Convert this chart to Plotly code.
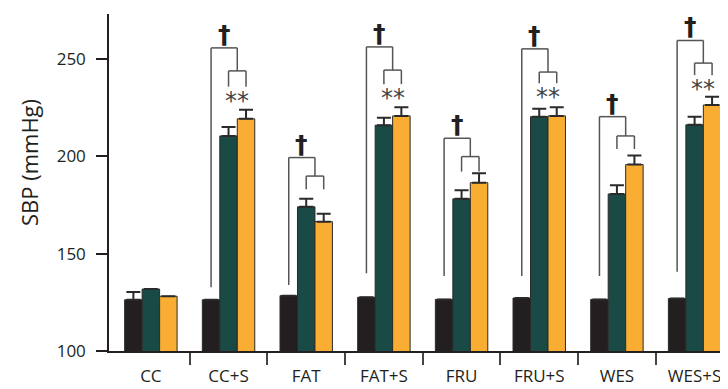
import plotly.graph_objects as go

categories = ["CC", "CC+S", "FAT", "FAT+S", "FRU", "FRU+S", "WES", "WES+S"]
black_vals = [126.3, 126.3, 128.4, 127.6, 126.5, 127.2, 126.5, 127.0]
black_err = [4.0, 0, 0, 0, 0, 0, 0, 0]
green_vals = [131.8, 210.4, 174.0, 215.9, 178.1, 220.3, 180.6, 216.1]
green_err = [0, 4.6, 4.2, 3.9, 4.4, 4.1, 4.5, 4.2]
orange_vals = [128.1, 219.2, 166.4, 220.7, 186.4, 220.7, 195.7, 226.3]
orange_err = [0, 4.6, 4.1, 4.4, 4.8, 4.4, 4.6, 4.2]

# bracket annotations: group index, big-bracket left-leg bottom, big top, small top, small leg bottom, has **
bracket_groups = [1, 2, 3, 4, 5, 6, 7]
big_bottom = [132.7, 133.9, 139.9, 138.5, 138.5, 138.5, 140.7]
big_top = [255.6, 199.3, 256.1, 209.2, 255.1, 220.3, 259.4]
small_top = [243.8, 189.8, 244.2, 199.8, 243.2, 210.4, 247.8]
small_bottom = [235.7, 183.0, 237.0, 192.1, 237.5, 203.7, 241.6]
has_stars = [True, False, True, False, True, False, True]

xs = list(range(len(categories)))
BW = 0.225

fig = go.Figure()
edge = dict(color="#2a2a2a", width=1)
err_style = dict(type="data", symmetric=False, color="#2a2a2a", thickness=2, width=7)
fig.add_trace(go.Bar(x=xs, y=black_vals, marker=dict(color="#231f20", line=edge),
                     error_y=dict(array=black_err, arrayminus=[0]*8, **err_style)))
fig.add_trace(go.Bar(x=xs, y=green_vals, marker=dict(color="#1a4a45", line=edge),
                     error_y=dict(array=green_err, arrayminus=[0]*8, **err_style)))
fig.add_trace(go.Bar(x=xs, y=orange_vals, marker=dict(color="#f9ae33", line=edge),
                     error_y=dict(array=orange_err, arrayminus=[0]*8, **err_style)))

shapes = []
annotations = []
lc = dict(color="#555555", width=1.5)
for k, g in enumerate(bracket_groups):
    xb = g - BW
    xg = g
    xo = g + BW
    xm = (xg + xo) / 2
    # big bracket
    shapes.append(dict(type="line", xref="x", yref="y", x0=xb, x1=xb, y0=big_bottom[k], y1=big_top[k], line=lc))
    shapes.append(dict(type="line", xref="x", yref="y", x0=xb, x1=xm, y0=big_top[k], y1=big_top[k], line=lc))
    shapes.append(dict(type="line", xref="x", yref="y", x0=xm, x1=xm, y0=big_top[k], y1=small_top[k], line=lc))
    # small bracket
    shapes.append(dict(type="line", xref="x", yref="y", x0=xg, x1=xo, y0=small_top[k], y1=small_top[k], line=lc))
    shapes.append(dict(type="line", xref="x", yref="y", x0=xg, x1=xg, y0=small_top[k], y1=small_bottom[k], line=lc))
    shapes.append(dict(type="line", xref="x", yref="y", x0=xo, x1=xo, y0=small_top[k], y1=small_bottom[k], line=lc))
    annotations.append(dict(x=(xb + xm) / 2, y=big_top[k], xref="x", yref="y", text="<b>†</b>",
                            showarrow=False, yanchor="bottom", yshift=-3,
                            font=dict(size=25, color="#231f20", family="DejaVu Sans")))
    if has_stars[k]:
        annotations.append(dict(x=xm, y=small_bottom[k], xref="x", yref="y", text="**",
                                showarrow=False, yanchor="top", yshift=2,
                                font=dict(size=24, color="#444444", family="DejaVu Sans")))

# y-axis title, placed a little above the axis centre as in the reference
annotations.append(dict(x=-0.128, y=0.56, xref="paper", yref="paper", text="SBP (mmHg)",
                        textangle=-90, showarrow=False, xanchor="center", yanchor="middle",
                        font=dict(size=22, color="#231f20", family="Open Sans")))

# page body has an 8px default margin, so the figure is drawn 8px smaller
fig.update_layout(
    width=720, height=381,
    margin=dict(l=101, r=0, t=6, b=38, autoexpand=False),
    paper_bgcolor="white", plot_bgcolor="white",
    barmode="group", bargap=0.325, bargroupgap=0,
    showlegend=False,
    font=dict(family="Open Sans", color="#231f20"),
    shapes=shapes, annotations=annotations,
    xaxis=dict(range=[-0.539, 7.43], tickmode="array", tickvals=xs, ticktext=categories,
               ticks="", showgrid=False, zeroline=False, showline=True, automargin=False,
               linecolor="#231f20", linewidth=1.5, tickfont=dict(size=17),
               ticklabelstandoff=9,
               minor=dict(tickmode="array", tickvals=[0.5, 1.5, 2.5, 3.5, 4.5, 5.5, 6.5],
                          ticks="outside", ticklen=12, tickcolor="#444444", tickwidth=1.5,
                          showgrid=False)),
    yaxis=dict(range=[100, 273], tickvals=[100, 150, 200, 250], ticks="outside", ticklen=11,
               tickwidth=1.5, tickcolor="#231f20", showgrid=False, zeroline=False,
               showline=True, linecolor="#231f20", linewidth=1.5, tickfont=dict(size=17),
               ticklabelstandoff=7, automargin=False),
)

fig.write_html("out.html")
